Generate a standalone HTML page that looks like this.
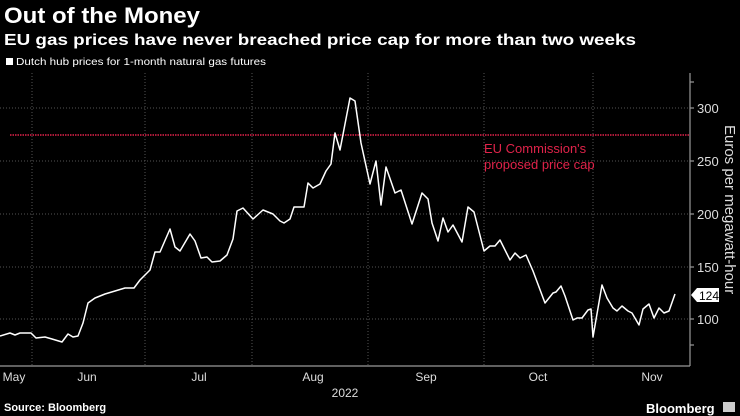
<!DOCTYPE html>
<html><head><meta charset="utf-8"><style>
html,body{margin:0;padding:0;background:#000;}
svg{display:block;font-family:"Liberation Sans",sans-serif;}
</style></head><body>
<svg width="740" height="416" viewBox="0 0 740 416">
<rect width="740" height="416" fill="#000"/>
<text x="4" y="23" fill="#fff" font-size="22" font-weight="bold" textLength="196" lengthAdjust="spacingAndGlyphs">Out of the Money</text>
<text x="4" y="45" fill="#fff" font-size="16" font-weight="bold" textLength="632" lengthAdjust="spacingAndGlyphs">EU gas prices have never breached price cap for more than two weeks</text>
<rect x="6" y="58" width="7" height="7" fill="#fff"/>
<text x="16" y="65" fill="#fff" font-size="10.5" textLength="250" lengthAdjust="spacingAndGlyphs">Dutch hub prices for 1-month natural gas futures</text>
<g stroke="#555" stroke-width="1" stroke-dasharray="1,2">
<line x1="0" y1="108" x2="690" y2="108"/><line x1="0" y1="161" x2="690" y2="161"/><line x1="0" y1="214" x2="690" y2="214"/><line x1="0" y1="267" x2="690" y2="267"/><line x1="0" y1="319" x2="690" y2="319"/>
<line x1="32" y1="73" x2="32" y2="366"/><line x1="145" y1="73" x2="145" y2="366"/><line x1="252" y1="73" x2="252" y2="366"/><line x1="368" y1="73" x2="368" y2="366"/><line x1="484" y1="73" x2="484" y2="366"/><line x1="593" y1="73" x2="593" y2="366"/>
</g>
<line x1="10" y1="135" x2="690" y2="135" stroke="#e0234a" stroke-width="1.5" stroke-dasharray="1.5,1"/>
<g stroke="#999" stroke-width="1.2" fill="none">
<line x1="690" y1="73" x2="690" y2="366"/><line x1="0" y1="366" x2="690" y2="366"/>
<line x1="690" y1="82" x2="694" y2="82"/><line x1="690" y1="108" x2="694" y2="108"/><line x1="690" y1="161" x2="694" y2="161"/><line x1="690" y1="214" x2="694" y2="214"/><line x1="690" y1="267" x2="694" y2="267"/><line x1="690" y1="319" x2="694" y2="319"/><line x1="690" y1="345" x2="694" y2="345"/>
</g>
<g fill="#ddd" font-size="13">
<text x="697" y="113">300</text><text x="697" y="166">250</text><text x="697" y="219">200</text><text x="697" y="272">150</text><text x="697" y="324">100</text>
</g>
<text transform="translate(725,125) rotate(90)" fill="#ddd" font-size="15">Euros per megawatt-hour</text>
<text x="484" y="153" fill="#e0234a" font-size="13">EU Commission's</text>
<text x="484" y="169" fill="#e0234a" font-size="13">proposed price cap</text>
<polyline fill="none" stroke="#fff" stroke-width="1.5" stroke-linejoin="round" points="0,336 10,333 15,335 20,333 31,333 36,338 45,337 52,339 62,342 68,334 73,337 78,336 83,323 88,303 95,298 105,294 115,291 125,288 134,288 140,280 146,274 150,270 155,252 160,252 170,229 175,247 180,251 190,234 195,241 201,258 207,257 212,262 220,261 227,255 233,239 237,211 243,208 253,219 263,210 273,214 280,221 284,223 290,219 294,207 304,207 308,183 313,188 320,184 326,171 331,164 335,133 340,150 350,98 355,101 361,143 370,184 376,161 381,205 386,167 395,193 401,190 412,224 422,193 428,199 432,223 438,241 443,218 448,232 453,225 462,242 468,207 474,212 484,251 490,246 495,246 500,240 510,260 515,253 520,258 526,255 533,271 545,303 553,293 556,292 561,286 565,296 573,320 577,318 582,318 588,310 591,309 593,337 602,285 607,298 613,308 617,311 622,306 628,311 632,313 639,325 643,309 649,304 654,318 659,308 664,313 669,311 675,294"/>
<path d="M691,295 L697,288 L719,288 L719,302 L697,302 Z" fill="#fff"/>
<text x="699" y="300" fill="#000" font-size="12">124</text>
<g fill="#ddd" font-size="12" text-anchor="middle">
<text x="14" y="381">May</text><text x="87" y="381">Jun</text><text x="199" y="381">Jul</text><text x="313" y="381">Aug</text><text x="426" y="381">Sep</text><text x="538" y="381">Oct</text><text x="652" y="381">Nov</text>
<text x="345" y="397">2022</text>
</g>
<text x="4" y="411" fill="#fff" font-size="11" font-weight="bold">Source: Bloomberg</text>
<text x="646" y="413" fill="#fff" font-size="13" font-weight="bold">Bloomberg</text>
<rect x="723" y="402" width="12" height="10" fill="#ccc"/>
</svg>
</body></html>
